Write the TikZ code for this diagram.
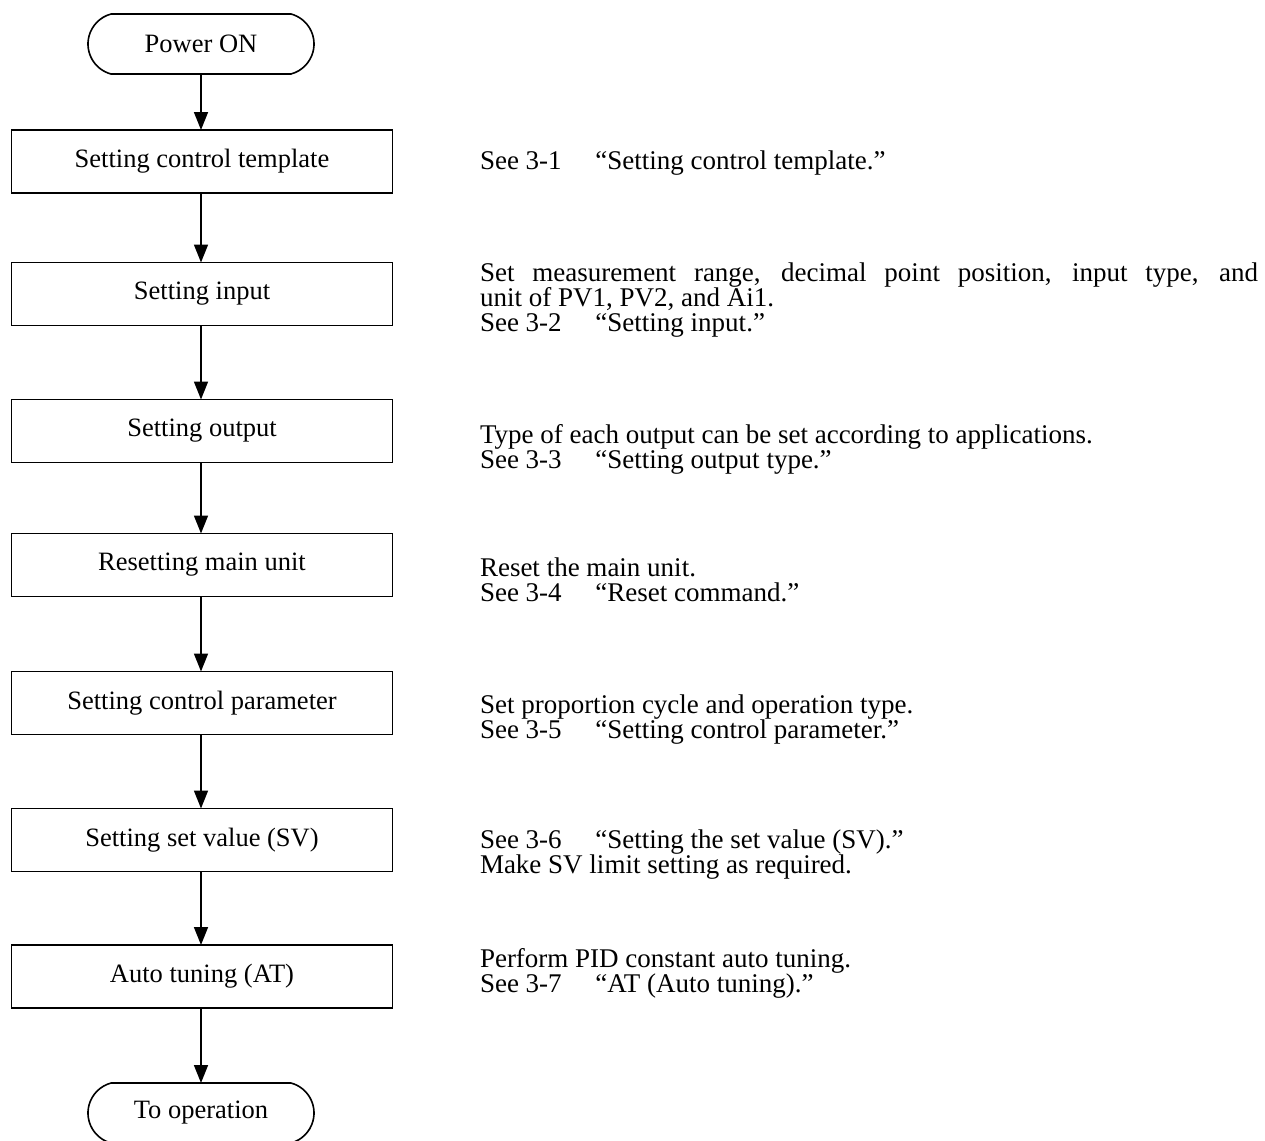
\documentclass[tikz,border=0pt]{standalone}
\usepackage{fontspec}
\setmainfont{Liberation Serif}
\usetikzlibrary{arrows.meta,shapes.misc}
\begin{document}
\begin{tikzpicture}[x=1pt,y=-1pt,
  every node/.style={font=\fontsize{26.5}{28}\selectfont, inner sep=0pt, outer sep=0pt},
  procbox/.style={draw, line width=1.8pt, minimum width=381pt, minimum height=63pt},
  term/.style={draw, line width=1.6pt, rounded rectangle, rounded rectangle arc length=150, minimum width=226pt, minimum height=60pt},
  flow/.style={line width=1.6pt, -{Triangle[length=18pt,width=14pt]}},
  note/.style={anchor=west, align=left, font=\fontsize{27}{25}\selectfont}]
\useasboundingbox (0,0) rectangle (1265,1140);
% flow nodes
\node[term]    (start) at (201,44)    {Power ON};
\node[procbox] (b1)    at (202,161.5) {Setting control template};
\node[procbox] (b2)    at (202,294)   {Setting input};
\node[procbox] (b3)    at (202,431)   {Setting output};
\node[procbox] (b4)    at (202,565)   {Resetting main unit};
\node[procbox] (b5)    at (202,703)   {Setting control parameter};
\node[procbox] (b6)    at (202,840)   {Setting set value (SV)};
\node[procbox] (b7)    at (202,976.5) {Auto tuning (AT)};
\node[term]    (stop)  at (201,1113)  {To operation};
% connectors
\draw[flow] (start.south) -- (start.south |- b1.north);
\draw[flow] (b1.south -| start.south) -- (start.south |- b2.north);
\draw[flow] (b2.south -| start.south) -- (start.south |- b3.north);
\draw[flow] (b3.south -| start.south) -- (start.south |- b4.north);
\draw[flow] (b4.south -| start.south) -- (start.south |- b5.north);
\draw[flow] (b5.south -| start.south) -- (start.south |- b6.north);
\draw[flow] (b6.south -| start.south) -- (start.south |- b7.north);
\draw[flow] (b7.south -| start.south) -- (stop.north);
% notes
\node[note] (n1) at (480,163) {See 3-1\hspace{1.25em}“Setting control template.”};
\node[note, text width=778pt, align=justify] (n2) at (480,300)
  {Set measurement range, decimal point position, input type, and\linebreak unit of PV1, PV2, and Ai1.\\See 3-2\hspace{1.25em}“Setting input.”};
\node[note] (n3) at (480,449) {Type of each output can be set according to applications.\\See 3-3\hspace{1.25em}“Setting output type.”};
\node[note] (n4) at (480,580) {Reset the main unit.\\See 3-4\hspace{1.25em}“Reset command.”};
\node[note] (n5) at (480,720) {Set proportion cycle and operation type.\\See 3-5\hspace{1.25em}“Setting control parameter.”};
\node[note] (n6) at (480,855) {See 3-6\hspace{1.25em}“Setting the set value (SV).”\\Make SV limit setting as required.};
\node[note] (n7) at (480,973) {Perform PID constant auto tuning.\\See 3-7\hspace{1.25em}“AT (Auto tuning).”};
\end{tikzpicture}
\end{document}
